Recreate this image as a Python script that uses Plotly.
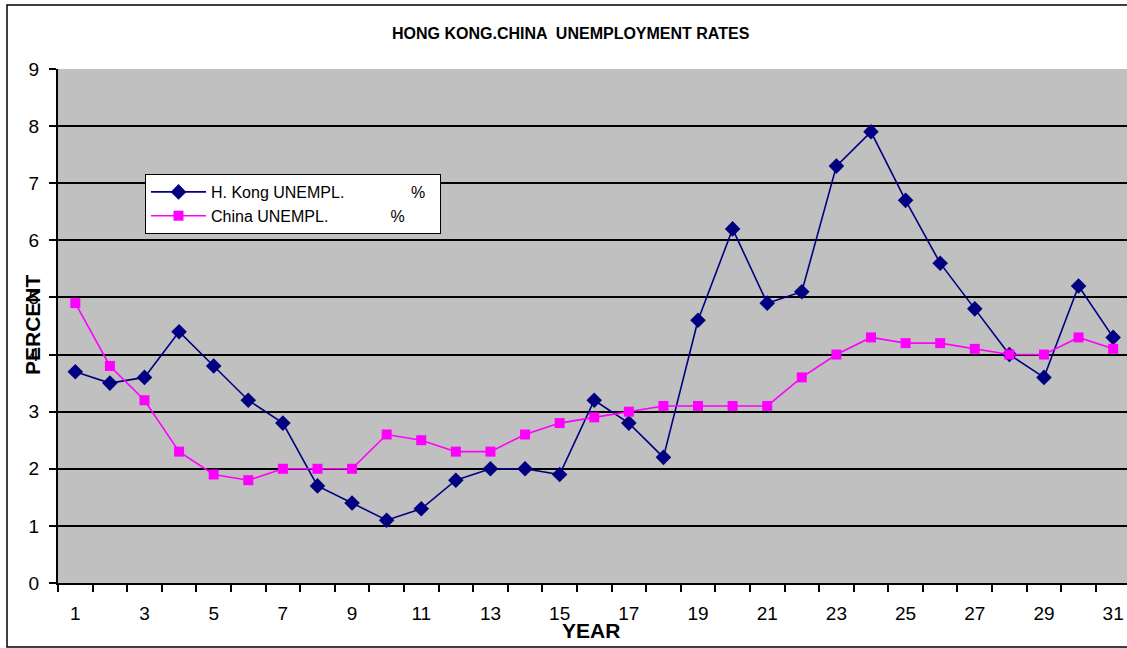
import plotly.graph_objects as go

years = list(range(1, 32))
hk_unempl = [3.7, 3.5, 3.6, 4.4, 3.8, 3.2, 2.8, 1.7, 1.4, 1.1, 1.3, 1.8, 2.0, 2.0, 1.9, 3.2,
             2.8, 2.2, 4.6, 6.2, 4.9, 5.1, 7.3, 7.9, 6.7, 5.6, 4.8, 4.0, 3.6, 5.2, 4.3]
china_unempl = [4.9, 3.8, 3.2, 2.3, 1.9, 1.8, 2.0, 2.0, 2.0, 2.6, 2.5, 2.3, 2.3, 2.6, 2.8, 2.9,
                3.0, 3.1, 3.1, 3.1, 3.1, 3.6, 4.0, 4.3, 4.2, 4.2, 4.1, 4.0, 4.0, 4.3, 4.1]
x_tick_labels = [str(v) for v in range(1, 32, 2)]
y_ticks = list(range(0, 10))

W, H = 1127, 648
L, R, T, B = 58, 0, 69, 65
PW = W - L - R
PH = H - T - B

def px(x):
    return (x - L) / PW

def py(y):
    return (H - B - y) / PH

NB = "\u00a0"
fig = go.Figure()
fig.add_trace(go.Scatter(
    x=years, y=hk_unempl, mode="lines+markers",
    name="H. Kong UNEMPL." + NB * 15 + "%" + NB * 2,
    line=dict(color="#000080", width=1.6),
    marker=dict(symbol="diamond", size=12, color="#000080"),
))
fig.add_trace(go.Scatter(
    x=years, y=china_unempl, mode="lines+markers",
    name="China UNEMPL." + NB * 14 + "%",
    line=dict(color="#FF00FF", width=1.6),
    marker=dict(symbol="square", size=10, color="#FF00FF"),
))

font_family = "Liberation Sans, Arial, sans-serif"

fig.update_layout(
    width=W, height=H,
    margin=dict(l=L, r=R, t=T, b=B),
    paper_bgcolor="white",
    plot_bgcolor="#C0C0C0",
    font=dict(family=font_family, color="black"),
    showlegend=True,
    legend=dict(
        x=px(145), y=py(174), xanchor="left", yanchor="top",
        bgcolor="white", bordercolor="black", borderwidth=1,
        font=dict(size=16, family=font_family, color="black"),
        itemwidth=55, tracegroupgap=2,
    ),
    xaxis=dict(
        range=[0.5, 31.4],
        tickmode="array", tickvals=list(range(1, 32, 2)), ticktext=x_tick_labels,
        ticks="", showgrid=False, zeroline=False,
        showline=True, linecolor="black", linewidth=2,
        ticklabelstandoff=12,
        tickfont=dict(size=19, family=font_family, color="black"),
        minor=dict(tick0=0.5, dtick=1, ticks="outside", ticklen=7, tickcolor="black",
                   tickwidth=1.5, showgrid=False),
    ),
    yaxis=dict(
        range=[0, 9], tickmode="array", tickvals=y_ticks,
        ticks="outside", ticklen=7, tickcolor="black", tickwidth=1.5,
        showgrid=True, gridcolor="black", gridwidth=1.5,
        zeroline=False,
        showline=True, linecolor="black", linewidth=2,
        ticklabelstandoff=6,
        tickfont=dict(size=19, family=font_family, color="black"),
    ),
    shapes=[
        dict(type="rect", xref="paper", yref="paper",
             x0=px(7), y0=py(647), x1=px(1135), y1=py(5),
             line=dict(color="black", width=1.5), fillcolor="rgba(0,0,0,0)", layer="above"),
    ],
    annotations=[
        dict(text="<b>HONG KONG.CHINA  UNEMPLOYMENT RATES</b>", xref="paper", yref="paper",
             x=px(571), y=py(33), showarrow=False, xanchor="center", yanchor="middle",
             font=dict(size=16, family=font_family, color="black")),
        dict(text="<b>YEAR</b>", xref="paper", yref="paper",
             x=px(591), y=py(630), showarrow=False, xanchor="center", yanchor="middle",
             font=dict(size=21, family=font_family, color="black")),
        dict(text="<b>PERCENT</b>", xref="paper", yref="paper",
             x=px(32), y=py(325), showarrow=False, xanchor="center", yanchor="middle",
             textangle=-90,
             font=dict(size=21, family=font_family, color="black")),
    ],
)

fig.write_html("out.html", config={"displayModeBar": False},
               post_script="document.body.style.margin='0px';document.body.style.overflow='hidden';")
